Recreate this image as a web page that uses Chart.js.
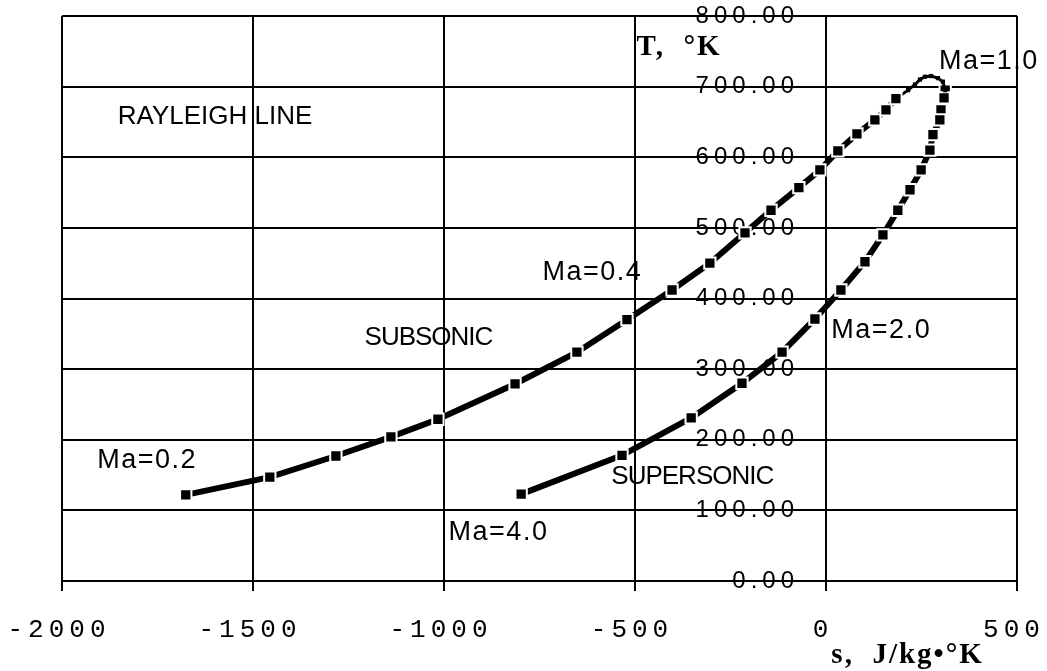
<!DOCTYPE html>
<html>
<head>
<meta charset="utf-8">
<script src="https://cdn.jsdelivr.net/npm/chart.js@4/dist/chart.umd.min.js"></script>
<style>
  html, body { margin: 0; padding: 0; background: #ffffff; }
  #wrap { width: 1047px; height: 671px; }
</style>
</head>
<body>
<div id="wrap"><canvas id="c" width="1047" height="671"></canvas></div>
<script>
// ---- data ----
const xTickValues = [-2000, -1500, -1000, -500, 0, 500];
const yTickValues = [0, 100, 200, 300, 400, 500, 600, 700, 800];

// subsonic branch (Ma = 0.2 ... near sonic), entropy s [J/kg K], temperature T [K]
const subsonicS = [-1676, -1456, -1283, -1139, -1016, -814, -652, -521, -403, -304, -212, -144, -71, -16, 31, 81, 128, 157, 183];
const subsonicT = [122, 147, 177, 204, 229, 279, 324, 370, 412, 450, 493, 525, 557, 582, 609, 633, 653, 667, 683];

// dense arc around the maximum temperature up to Ma = 1.0
const sonicArcS = [183, 215, 233, 246, 259, 275, 293, 306, 312];
const sonicArcT = [683, 695, 703, 710, 714, 715, 712, 707, 695];

// supersonic branch (Ma = 1.0 ... 4.0)
const supersonicS = [312, 309, 301, 298, 280, 272, 249, 220, 188, 149, 102, 39, -29, -115, -220, -353, -534, -798];
const supersonicT = [695, 684, 667, 653, 632, 610, 582, 554, 525, 490, 452, 412, 371, 324, 280, 231, 178, 123];

// annotation texts
const noteTexts = ['RAYLEIGH LINE', 'SUBSONIC', 'SUPERSONIC', 'Ma=0.2', 'Ma=0.4', 'Ma=1.0', 'Ma=2.0', 'Ma=4.0'];
const yTitle = 'T,  \u00B0K';
const xTitle = 's,  J/kg\u2022\u00B0K';

// ---- layout of the annotations (anchor = left / middle, in data units) ----
const noteLayout = [
  { s: -1854, t: 657, size: 26, spacing: 0 },
  { s: -1208, t: 345, size: 26, spacing: -1 },
  { s: -562,  t: 147, size: 26, spacing: -1 },
  { s: -1908, t: 171, size: 27, spacing: 1.5 },
  { s: -742,  t: 437, size: 27, spacing: 1.5 },
  { s: 296,   t: 735, size: 27, spacing: 1.5 },
  { s: 14,    t: 355, size: 27, spacing: 1.5 },
  { s: -988,  t: 68,  size: 27, spacing: 1.5 }
];
const yTitleLayout = { s: -496, t: 756 };
const xTitleLayout = { s: 14, t: -105 };

function toPoints(xs, ys) { return xs.map((v, i) => ({ x: v, y: ys[i] })); }

// draw a scale's labels with extra letter spacing (and an optional shift)
function spacedLabels(scale, spacing, shiftX) {
  if (scale._spacedWrapped) return;
  const orig = scale.drawLabels;
  scale.drawLabels = function (area) {
    const c = this.ctx;
    c.save();
    c.letterSpacing = spacing + 'px';
    c.translate(shiftX, 0);
    orig.call(this, area);
    c.restore();
  };
  scale._spacedWrapped = true;
}
function noPadding(scale) {
  scale.paddingTop = 0; scale.paddingBottom = 0;
  scale.paddingLeft = 0; scale.paddingRight = 0;
}

const notes = {
  id: 'notes',
  afterDraw(chart) {
    const ctx = chart.ctx;
    const xs = chart.scales.x, ys = chart.scales.y;
    ctx.save();
    ctx.fillStyle = '#000';
    ctx.textAlign = 'left';
    ctx.textBaseline = 'middle';
    noteTexts.forEach((txt, i) => {
      const L = noteLayout[i];
      ctx.font = L.size + 'px "Liberation Sans", Arial, sans-serif';
      ctx.letterSpacing = L.spacing + 'px';
      ctx.fillText(txt, xs.getPixelForValue(L.s), ys.getPixelForValue(L.t));
    });
    ctx.font = 'bold 29px "Liberation Serif", "Times New Roman", serif';
    ctx.letterSpacing = '2px';
    ctx.fillText(yTitle, xs.getPixelForValue(yTitleLayout.s), ys.getPixelForValue(yTitleLayout.t));
    ctx.fillText(xTitle, xs.getPixelForValue(xTitleLayout.s), ys.getPixelForValue(xTitleLayout.t));
    ctx.restore();
  }
};

const squareLine = {
  showLine: true,
  borderColor: '#000',
  borderWidth: 6,
  pointStyle: 'rect',
  pointRadius: 8,
  pointHoverRadius: 8,
  pointBackgroundColor: '#000',
  pointBorderColor: '#fff',
  pointBorderWidth: 2,
  tension: 0
};

new Chart(document.getElementById('c'), {
  type: 'scatter',
  data: {
    datasets: [
      Object.assign({ label: 'Subsonic', data: toPoints(subsonicS, subsonicT) }, squareLine),
      {
        label: 'Near sonic', data: toPoints(sonicArcS, sonicArcT),
        showLine: true, borderColor: '#000', borderWidth: 3,
        pointStyle: 'rect', pointRadius: 3, pointBackgroundColor: '#000',
        pointBorderColor: '#000', pointBorderWidth: 0, tension: 0
      },
      Object.assign({ label: 'Supersonic', data: toPoints(supersonicS, supersonicT) }, squareLine)
    ]
  },
  options: {
    responsive: false,
    animation: false,
    devicePixelRatio: 1,
    layout: { padding: { left: 62, top: 16, right: 30, bottom: 0 } },
    plugins: { legend: { display: false }, tooltip: { enabled: false } },
    scales: {
      x: {
        type: 'linear',
        position: 'bottom',
        min: xTickValues[0],
        max: xTickValues[xTickValues.length - 1],
        afterBuildTicks(scale) { scale.ticks = xTickValues.map(v => ({ value: v })); },
        afterFit(scale) { scale.height = 90; noPadding(scale); spacedLabels(scale, 5, -3); },
        grid: { color: '#000', lineWidth: 2, drawTicks: true, tickLength: 10, tickColor: '#000' },
        border: { color: '#000', width: 2 },
        ticks: {
          color: '#000',
          padding: 24,
          maxRotation: 0,
          autoSkip: false,
          font: { family: '"Liberation Mono", "DejaVu Sans Mono", monospace', size: 26 },
          callback: (v) => String(v)
        }
      },
      y: {
        type: 'linear',
        position: { x: 0 },
        min: yTickValues[0],
        max: yTickValues[yTickValues.length - 1],
        afterBuildTicks(scale) { scale.ticks = yTickValues.map(v => ({ value: v })); },
        afterFit(scale) { noPadding(scale); spacedLabels(scale, 5, -27); },
        grid: { color: '#000', lineWidth: 2, drawTicks: false },
        border: { color: '#000', width: 2 },
        ticks: {
          color: '#000',
          padding: 0,
          font: { family: '"Liberation Sans", Arial, sans-serif', size: 24 },
          callback: (v) => Number(v).toFixed(2)
        }
      }
    }
  },
  plugins: [notes]
});
</script>
</body>
</html>
